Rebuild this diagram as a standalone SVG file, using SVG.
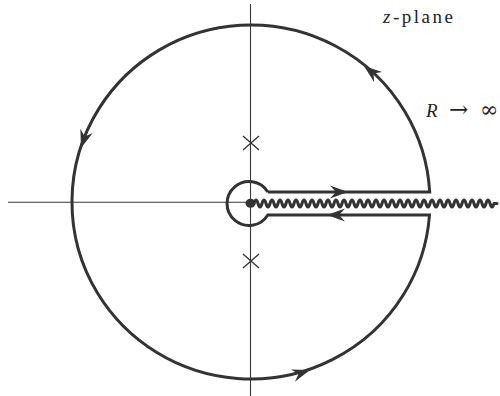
<svg xmlns="http://www.w3.org/2000/svg" width="500" height="396" viewBox="0 0 500 396">
<style>
.axis{stroke:#3a3a3a;stroke-width:1.1;fill:none}
.contour{stroke:#333;stroke-width:3;fill:none;stroke-linejoin:miter}
.cut{stroke:#333;stroke-width:3;fill:none;stroke-linejoin:round;stroke-linecap:round}
.cross{stroke:#333;stroke-width:1.3;fill:none}
.ah{fill:#333}
.lbl{font-family:"Liberation Serif","DejaVu Serif",serif;fill:#222;font-size:19px}
.sym{font-family:"DejaVu Serif","Liberation Serif",serif}
</style>
<defs>
<path id="ah" d="M0,0 L-18,-6.5 L-12,0 L-18,6.5 Z"/>
</defs>
<rect width="500" height="396" fill="#fff"/>
<g id="axes">
<line class="axis" x1="250.5" y1="4" x2="250.5" y2="396"/>
<line class="axis" x1="8" y1="202.3" x2="250" y2="202.3"/>
</g>
<g id="poles">
<path class="cross" d="M243,136 L259,150 M259,136 L243,150"/>
<path class="cross" d="M243,254 L259,268 M259,254 L243,268"/>
</g>
<g id="branch-cut">
<ellipse cx="250.5" cy="203.3" rx="5" ry="4.5" fill="#333"/>
<path class="cut" d="M254,203.5 q2,-7 4,0 t4,0 t4,0 t4,0 t4,0 t4,0 t4,0 t4,0 t4,0 t4,0 t4,0 t4,0 t4,0 t4,0 t4,0 t4,0 t4,0 t4,0 t4,0 t4,0 t4,0 t4,0 t4,0 t4,0 t4,0 t4,0 t4,0 t4,0 t4,0 t4,0 t4,0 t4,0 t4,0 t4,0 t4,0 t4,0 t4,0 t4,0 t4,0 t4,0 t4,0 t4,0 t4,0 t4,0 t4,0 t4,0 t4,0 t4,0 t4,0 t4,0 t4,0 t4,0 t4,0 t4,0 t4,0 t4,0 t4,0 t4,0 t4,0 t4,0 l3,0"/>
</g>
<g id="contour">
<path class="contour" d="M267.8,192 L429.7,192 A179,177 0 1 0 429.5,215 L267.8,215 A22,22 0 1 1 267.8,192"/>
</g>
<g id="arrows" class="ah">
<use href="#ah" transform="translate(364,66) rotate(-142)"/>
<use href="#ah" transform="translate(81,148) rotate(108)"/>
<use href="#ah" transform="translate(310,370) rotate(-18)"/>
<use href="#ah" transform="translate(348,192)"/>
<use href="#ah" transform="translate(327,215) rotate(180)"/>
</g>
<g id="labels">
<text class="lbl" x="383" y="23" textLength="70" lengthAdjust="spacing"><tspan font-style="italic">z</tspan>-plane</text>
<text class="lbl" y="117"><tspan x="426" font-style="italic">R</tspan><tspan class="sym" x="449" font-size="23">→</tspan><tspan class="sym" x="480" font-size="22">∞</tspan></text>
</g>
</svg>
